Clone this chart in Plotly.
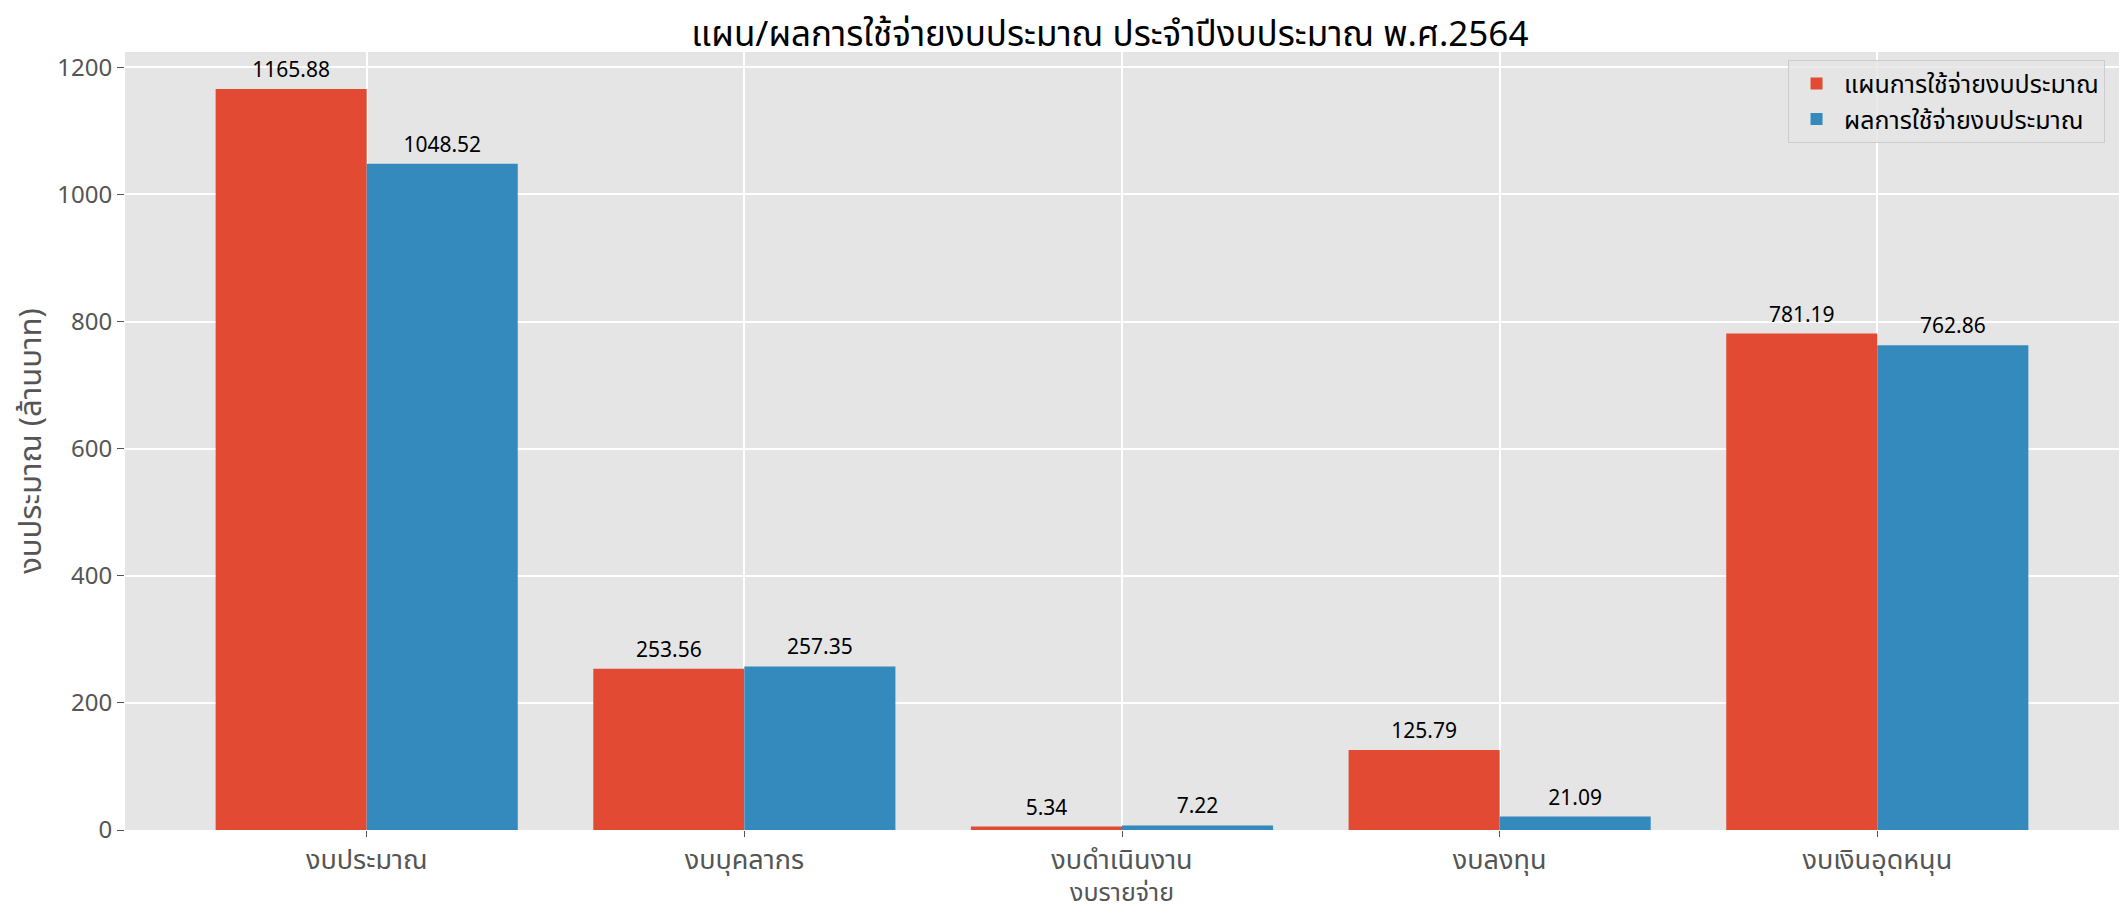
import plotly.graph_objects as go

categories = ["งบประมาณ", "งบบุคลากร", "งบดำเนินงาน", "งบลงทุน", "งบเงินอุดหนุน"]
plan_values = [1165.88, 253.56, 5.34, 125.79, 781.19]
actual_values = [1048.52, 257.35, 7.22, 21.09, 762.86]
series_names = ["แผนการใช้จ่ายงบประมาณ", "ผลการใช้จ่ายงบประมาณ"]
y_ticks = [0, 200, 400, 600, 800, 1000, 1200]
x_title = "งบรายจ่าย"

FONT = "Tahoma, 'Noto Sans Thai', 'Noto Sans', sans-serif"

fig = go.Figure()
for name, vals, color in [(series_names[0], plan_values, "#E24A33"),
                          (series_names[1], actual_values, "#348ABD")]:
    fig.add_trace(go.Bar(
        x=categories, y=vals, name=name,
        marker=dict(color=color, line=dict(width=0)),
        text=[f"{v:.2f}" for v in vals],
        textposition="outside",
        textfont=dict(size=21, color="black", family=FONT),
        cliponaxis=False,
    ))

# page body has an 8px margin, so the figure is shifted by 8px
fig.update_layout(
    width=2119, height=910,
    barmode="group", bargap=0.2, bargroupgap=0,
    paper_bgcolor="white", plot_bgcolor="#E5E5E5",
    font=dict(family=FONT, color="#555555"),
    margin=dict(l=117, r=8, t=44, b=88),
    title=dict(text="แผน/ผลการใช้จ่ายงบประมาณ ประจำปีงบประมาณ พ.ศ.2564",
               x=0.52, xanchor="center", y=0.972, yanchor="middle",
               font=dict(size=35, color="black", family=FONT)),
    legend=dict(x=0.993, y=0.99, xanchor="right", yanchor="top",
                bgcolor="rgba(229,229,229,0.8)", bordercolor="#CCCCCC", borderwidth=1,
                font=dict(size=25, color="black", family=FONT),
                itemsizing="constant", itemwidth=45),
    showlegend=True,
    annotations=[dict(text=x_title, xref="paper", yref="paper", x=0.5, y=-0.108,
                      xanchor="center", yanchor="bottom", showarrow=False,
                      font=dict(size=25, color="#555555", family=FONT))],
)
fig.update_xaxes(
    range=[-0.64, 4.64], showgrid=True, gridcolor="white", gridwidth=1.5,
    ticks="outside", ticklen=6, tickcolor="#555555",
    tickfont=dict(size=27, color="#555555"),
    zeroline=False, automargin=False,
)
fig.update_yaxes(
    range=[0, 1224.17], tickvals=y_ticks, showgrid=True, gridcolor="white", gridwidth=1.5,
    ticks="outside", ticklen=7, tickcolor="#555555",
    tickfont=dict(size=24, color="#555555"),
    title=dict(text="งบประมาณ (ล้านบาท)", font=dict(size=31, color="#555555"), standoff=10),
    zeroline=False, automargin=False,
)

fig.write_html("out.html")
